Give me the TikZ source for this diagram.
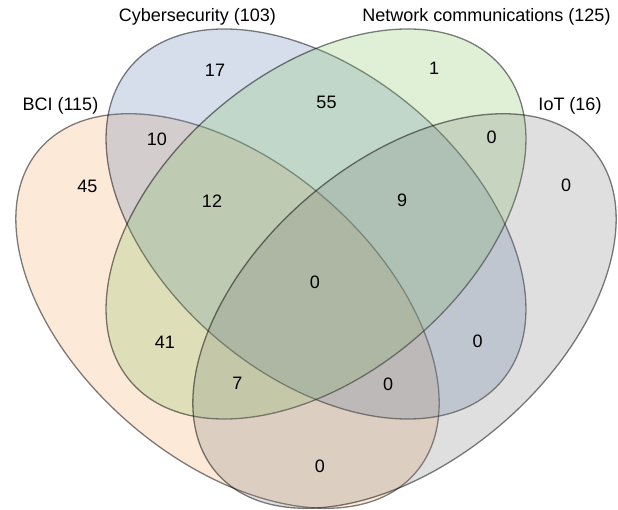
\documentclass[tikz,border=0pt]{standalone}
\usepackage{fontspec}
\setmainfont{Liberation Sans}
\definecolor{cbci}{RGB}{247,167,99}
\definecolor{ccyber}{RGB}{91,123,179}
\definecolor{cnet}{RGB}{131,195,95}
\definecolor{ciot}{RGB}{123,127,123}
\begin{document}
\begin{tikzpicture}[x=1pt,y=1pt,
  font=\fontsize{18}{21}\selectfont,
  setshape/.style={draw=black, draw opacity=0.5, line width=1.3pt, fill opacity=0.25},
  num/.style={inner sep=0pt, anchor=center},
  lab/.style={inner sep=0pt, anchor=base}]
\useasboundingbox (0,0) rectangle (618,509);
% sets
\path[setshape, fill=cbci, shift={(227.5,198)}, rotate=-40.7] (0,0) ellipse [x radius=248pt, y radius=149pt];
\path[setshape, fill=ccyber, shift={(316,285)}, rotate=-40.2] (0,0) ellipse [x radius=243.2pt, y radius=151.5pt];
\path[setshape, fill=cnet, shift={(316,285)}, rotate=40.2] (0,0) ellipse [x radius=243.2pt, y radius=151.5pt];
\path[setshape, fill=ciot, shift={(404.5,198)}, rotate=40.7] (0,0) ellipse [x radius=248pt, y radius=149pt];
% set labels
\node[lab] (lbci) at (60.4,398) {BCI (115)};
\node[lab] (lcyber) at (197.5,487.3) {Cybersecurity (103)};
\node[lab] (lnet) at (486.5,487.3) {Network communications (125)};
\node[lab] (liot) at (570,398) {IoT (16)};
% counts
\node[num] (n17) at (215,439) {17};
\node[num] (n55) at (326.5,407) {55};
\node[num] (n1) at (434,441) {1};
\node[num] (n10) at (157,370) {10};
\node[num] (n0ni) at (491.5,371.5) {0};
\node[num] (n45) at (87.5,322.5) {45};
\node[num] (n12) at (212,308) {12};
\node[num] (n9) at (402,309) {9};
\node[num] (n0iot) at (566,323.5) {0};
\node[num] (n0all) at (315,227) {0};
\node[num] (n41) at (165,167) {41};
\node[num] (n0ci) at (477.5,167.5) {0};
\node[num] (n7) at (237.5,126) {7};
\node[num] (n0bci) at (388,125) {0};
\node[num] (n0bi) at (320,43) {0};
\end{tikzpicture}
\end{document}
